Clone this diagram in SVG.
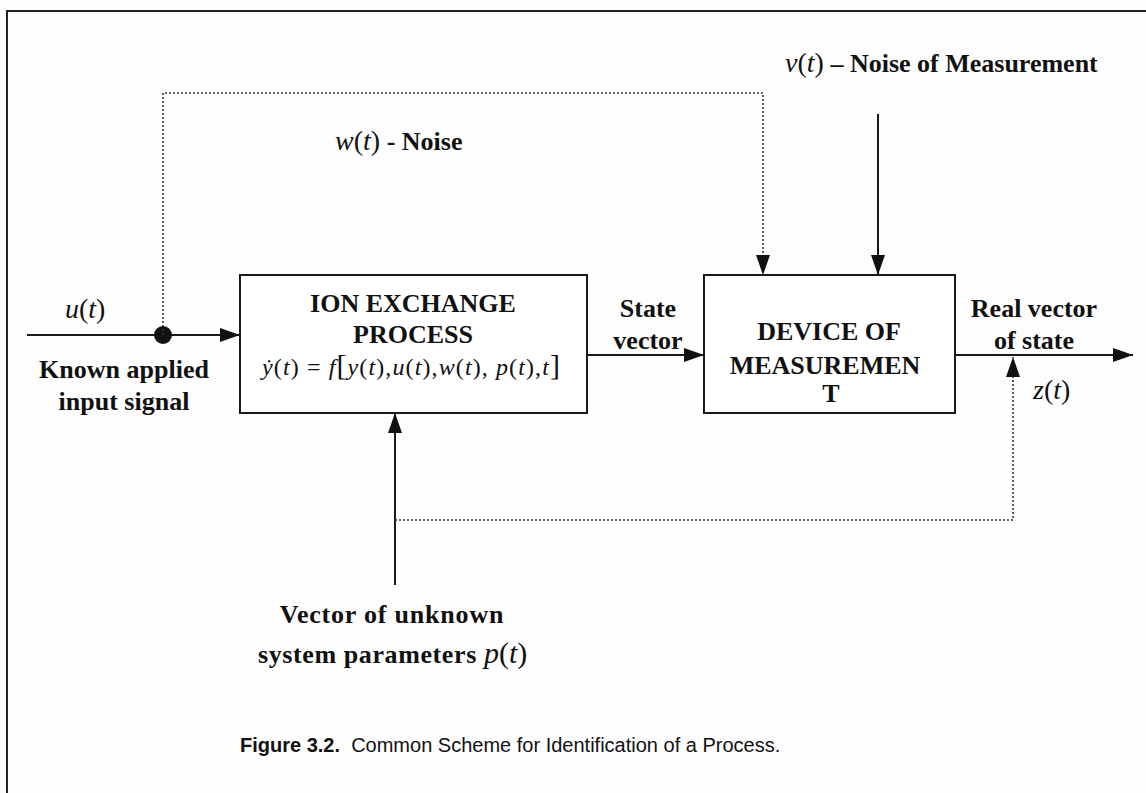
<svg xmlns="http://www.w3.org/2000/svg" width="1146" height="793" viewBox="0 0 1146 793">
  <style>
    .frame { fill: none; stroke: #222; stroke-width: 2; }
    .box { fill: #fff; stroke: #1a1a1a; stroke-width: 2; }
    .solid { fill: none; stroke: #1a1a1a; stroke-width: 2; }
    .dotted { fill: none; stroke: #333; stroke-width: 1.6; stroke-dasharray: 2 2; }
    .lbl { font-family: "Liberation Serif", "Times New Roman", serif; font-weight: bold; font-size: 26px; fill: #111; }
    .mid { text-anchor: middle; }
    .math { font-family: "Liberation Serif", "Times New Roman", serif; font-style: italic; font-weight: normal; fill: #111; }
    .up { font-style: normal; }
    .cap { font-family: "Liberation Sans", Arial, sans-serif; font-size: 20px; fill: #111; }
  </style>
  <defs>
    <marker id="arrow" markerUnits="userSpaceOnUse" markerWidth="22" markerHeight="16" refX="20" refY="7" orient="auto">
      <path d="M0,0 L20,7 L0,14 Z" fill="#111"/>
    </marker>
  </defs>

  <rect width="1146" height="793" fill="#fdfdfd"/>

  <!-- page frame: top rule and left rule -->
  <path class="frame" d="M7,793 L7,11 L1146,11"/>

  <!-- connectors -->
  <g id="connectors">
    <!-- known input u(t) into process -->
    <line class="solid" x1="27" y1="335" x2="240" y2="335" marker-end="url(#arrow)"/>
    <circle cx="163" cy="335" r="9" fill="#111"/>
    <!-- noise w(t) path to measurement device -->
    <path class="dotted" d="M163,335 L163,93 L763,93 L763,275" marker-end="url(#arrow)"/>
    <!-- measurement noise v(t) -->
    <line class="solid" x1="878" y1="114" x2="878" y2="275" marker-end="url(#arrow)"/>
    <!-- state vector -->
    <line class="solid" x1="587" y1="355" x2="704" y2="355" marker-end="url(#arrow)"/>
    <!-- output z(t) -->
    <line class="solid" x1="955" y1="355" x2="1133" y2="355" marker-end="url(#arrow)"/>
    <!-- unknown parameters p(t) -->
    <line class="solid" x1="395" y1="585" x2="395" y2="413" marker-end="url(#arrow)"/>
    <!-- feedback of the real state vector -->
    <path class="dotted" d="M395,520 L1013,520 L1013,357" marker-end="url(#arrow)"/>
  </g>

  <!-- process block -->
  <g id="ion-exchange-process">
    <rect class="box" x="240" y="275" width="347" height="138"/>
    <text class="lbl mid" x="413" y="312">ION EXCHANGE</text>
    <text class="lbl mid" x="413" y="343">PROCESS</text>
    <text class="math" x="262" y="375" font-size="24" textLength="298" lengthAdjust="spacing">ẏ<tspan class="up">(</tspan>t<tspan class="up">) = </tspan>f<tspan class="up" font-size="30">[</tspan>y<tspan class="up">(</tspan>t<tspan class="up">),</tspan>u<tspan class="up">(</tspan>t<tspan class="up">),</tspan>w<tspan class="up">(</tspan>t<tspan class="up">), </tspan>p<tspan class="up">(</tspan>t<tspan class="up">),</tspan>t<tspan class="up" font-size="30">]</tspan></text>
  </g>

  <!-- measurement block -->
  <g id="device-of-measurement">
    <rect class="box" x="704" y="275" width="251" height="138"/>
    <text class="lbl mid" x="829" y="340">DEVICE OF</text>
    <text class="lbl mid" x="825" y="374">MEASUREMEN</text>
    <text class="lbl mid" x="831" y="402" font-size="19">T</text>
  </g>

  <!-- signal labels -->
  <g id="input-label">
    <text class="math" x="65" y="318" font-size="28">u<tspan class="up">(</tspan>t<tspan class="up">)</tspan></text>
    <text class="lbl mid" x="124" y="378">Known applied</text>
    <text class="lbl mid" x="124" y="410">input signal</text>
  </g>
  <g id="noise-label">
    <text x="335" y="150"><tspan class="math" font-size="28">w<tspan class="up">(</tspan>t<tspan class="up">)</tspan></tspan><tspan class="lbl" font-size="24"> - Noise</tspan></text>
  </g>
  <g id="measurement-noise-label">
    <text x="785" y="72"><tspan class="math" font-size="28">v<tspan class="up">(</tspan>t<tspan class="up">)</tspan></tspan><tspan class="lbl"> – Noise of Measurement</tspan></text>
  </g>
  <g id="state-label">
    <text class="lbl mid" x="648" y="317">State</text>
    <text class="lbl mid" x="648" y="349">vector</text>
  </g>
  <g id="output-label">
    <text class="lbl mid" x="1034" y="317">Real vector</text>
    <text class="lbl mid" x="1034" y="349">of state</text>
    <text class="math" x="1033" y="399" font-size="28">z<tspan class="up">(</tspan>t<tspan class="up">)</tspan></text>
  </g>
  <g id="parameters-label">
    <text class="lbl mid" x="392" y="623" font-size="24" letter-spacing="0.8">Vector of unknown</text>
    <text x="258" y="663"><tspan class="lbl" font-size="24" letter-spacing="0.6">system parameters </tspan><tspan class="math" font-size="30">p<tspan class="up">(</tspan>t<tspan class="up">)</tspan></tspan></text>
  </g>

  <!-- caption -->
  <text class="cap" x="240" y="752"><tspan font-weight="bold">Figure 3.2.</tspan>&#160; Common Scheme for Identification of a Process.</text>
</svg>
